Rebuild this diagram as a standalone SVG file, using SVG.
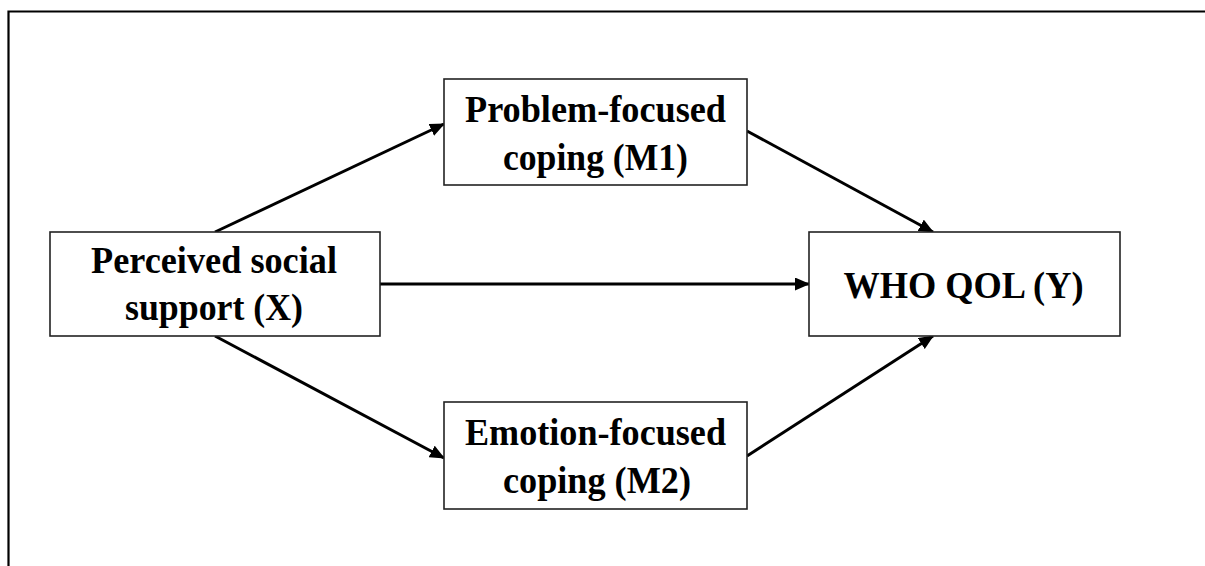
<svg xmlns="http://www.w3.org/2000/svg" width="1205" height="566" viewBox="0 0 1205 566">
<style>
.box{fill:#fff;stroke:#222;stroke-width:1.6}
.lbl{font-family:"Liberation Serif","Times New Roman",serif;font-weight:bold;font-size:37px;fill:#000;text-anchor:middle}
.edge{stroke:#000;stroke-width:3;fill:none;marker-end:url(#ah)}
</style>
<defs>
<marker id="ah" markerUnits="userSpaceOnUse" markerWidth="15" markerHeight="13" refX="14" refY="6.5" orient="auto">
<path d="M0,0 L15,6.5 L0,13 Z" fill="#000"/>
</marker>
</defs>
<rect x="0" y="0" width="1205" height="566" fill="#fff"/>
<path d="M8.5,566 V11.5 H1205" fill="none" stroke="#000" stroke-width="2.2"/>
<g id="connectors">
<line class="edge" x1="215" y1="232" x2="444" y2="124"/>
<line class="edge" x1="747" y1="131" x2="933" y2="232"/>
<line class="edge" x1="380" y1="284" x2="809" y2="284"/>
<line class="edge" x1="215" y1="336" x2="444" y2="458"/>
<line class="edge" x1="747" y1="456" x2="933" y2="336"/>
</g>
<g id="X">
<rect class="box" x="50" y="232" width="330" height="104"/>
<text class="lbl" x="214" y="273" textLength="246" lengthAdjust="spacingAndGlyphs">Perceived social</text>
<text class="lbl" x="214" y="320" textLength="178" lengthAdjust="spacingAndGlyphs">support (X)</text>
</g>
<g id="M1">
<rect class="box" x="444" y="79" width="303" height="106"/>
<text class="lbl" x="595.5" y="122" textLength="261" lengthAdjust="spacingAndGlyphs">Problem-focused</text>
<text class="lbl" x="595.5" y="170" textLength="185" lengthAdjust="spacingAndGlyphs">coping (M1)</text>
</g>
<g id="Y">
<rect class="box" x="809" y="232" width="311" height="104"/>
<text class="lbl" x="963.5" y="298" textLength="240" lengthAdjust="spacingAndGlyphs">WHO QOL (Y)</text>
</g>
<g id="M2">
<rect class="box" x="444" y="402" width="303" height="107"/>
<text class="lbl" x="595.5" y="445" textLength="261" lengthAdjust="spacingAndGlyphs">Emotion-focused</text>
<text class="lbl" x="597" y="493" textLength="188" lengthAdjust="spacingAndGlyphs">coping (M2)</text>
</g>
</svg>
